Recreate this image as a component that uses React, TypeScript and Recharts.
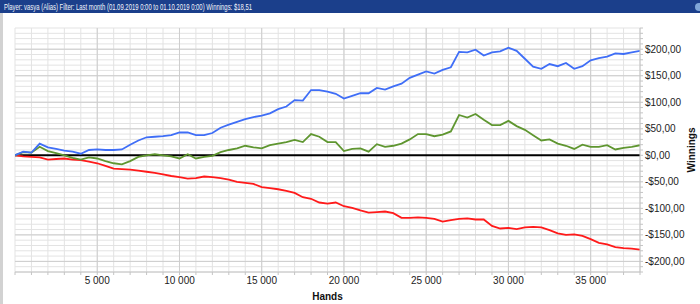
import { LineChart, Line, XAxis, YAxis, CartesianGrid, ReferenceLine } from 'recharts'

const hands = [
  0, 500, 1000, 1500, 2000, 2500, 3000, 3500, 4000, 4500,
  5000, 5500, 6000, 6500, 7000, 7500, 8000, 8500, 9000, 9500,
  10000, 10500, 11000, 11500, 12000, 12500, 13000, 13500, 14000, 14500,
  15000, 15500, 16000, 16500, 17000, 17500, 18000, 18500, 19000, 19500,
  20000, 20500, 21000, 21500, 22000, 22500, 23000, 23500, 24000, 24500,
  25000, 25500, 26000, 26500, 27000, 27500, 28000, 28500, 29000, 29500,
  30000, 30500, 31000, 31500, 32000, 32500, 33000, 33500, 34000, 34500,
  35000, 35500, 36000, 36500, 37000, 37500, 38000,
]

// total winnings (blue)
const winnings = [
  0, 7, 5, 22, 15, 12, 9, 7, 3, 10,
  11, 10, 10, 11, 20, 28, 34, 35, 36, 38,
  43, 43, 38, 38, 42, 52, 58, 63, 68, 72,
  75, 79, 87, 92, 104, 103, 123, 123, 120, 116,
  107, 112, 117, 117, 127, 124, 130, 135, 146, 152,
  158, 154, 161, 166, 195, 194, 199, 188, 194, 196,
  203, 197, 182, 167, 163, 172, 168, 174, 163, 168,
  179, 183, 186, 192, 191, 194, 197,
]

// showdown winnings (green)
const showdown = [
  0, 6, 5, 16, 8, 4, 0, -5, -8, -4,
  -6, -11, -15, -17, -11, -3, 0, 2, 0, -2,
  -6, 2, -6, -3, -1, 6, 10, 13, 18, 15,
  13, 19, 22, 25, 29, 25, 40, 35, 25, 25,
  8, 12, 13, 7, 21, 16, 18, 22, 30, 40,
  40, 36, 39, 45, 76, 71, 78, 67, 57, 57,
  65, 55, 48, 38, 28, 30, 22, 18, 12, 20,
  16, 16, 19, 11, 14, 16, 19,
]

// non-showdown winnings (red)
const nonShowdown = [
  0, -2, -3, -4, -8, -7, -6, -8, -9, -12,
  -15, -20, -25, -26, -27, -29, -31, -33, -36, -39,
  -41, -44, -43, -40, -41, -43, -46, -50, -52, -54,
  -60, -62, -64, -67, -71, -79, -82, -89, -91, -89,
  -96, -99, -104, -108, -107, -106, -109, -118, -118, -117,
  -118, -120, -125, -122, -120, -119, -121, -121, -133, -138,
  -137, -139, -136, -135, -136, -141, -147, -150, -149, -152,
  -158, -165, -168, -173, -175, -176, -178,
]

const xMinorTicks = Array.from({ length: 39 }, (_, i) => i * 1000)
const xMajorTicks = [5000, 10000, 15000, 20000, 25000, 30000, 35000]
const yMinorTicks = Array.from({ length: 47 }, (_, i) => -220 + i * 10)
const yMajorTicks = [-200, -150, -100, -50, 50, 100, 150, 200]

const data = hands.map((h, i) => ({
  hand: h,
  total: winnings[i],
  sd: showdown[i],
  nsd: nonShowdown[i],
}))

const fmtX = (v: number) => (v > 0 && v % 5000 === 0 ? `${v / 1000} 000` : '')
const fmtY = (v: number) => {
  if (v % 50 !== 0) return ''
  return v < 0 ? `-$${Math.abs(v)},00` : `$${v},00`
}

const font = 'Liberation Sans, Arial, sans-serif'
const tickStyle = { fill: '#222', fontSize: 10, fontFamily: font }

export default function App() {
  return (
    <div style={{ position: 'relative', width: 700, height: 304, background: '#fff', overflow: 'hidden' }}>
      <style>{'body{margin:0}'}</style>
      <div style={{ position: 'absolute', left: 0, top: 0, width: 700, height: 13, background: '#1b3f8b' }}>
        <svg width={700} height={13} style={{ display: 'block' }}>
          <text
            x={4}
            y={9.5}
            fill="#f4f6fb"
            fontSize={9}
            fontFamily={font}
            textLength={248}
            lengthAdjust="spacingAndGlyphs"
          >
            Player: vasya (Alias) Filter: Last month (01.09.2019 0:00 to 01.10.2019 0:00) Winnings: $18,51
          </text>
          <circle cx={699} cy={7} r={4} fill="#7fa6d8" />
        </svg>
      </div>
      <div style={{ position: 'absolute', left: 0, top: 13, width: 3, height: 291, background: '#d2d2d2' }} />
      <LineChart
        width={700}
        height={304}
        data={data}
        margin={{ top: 28, right: 15, left: 15, bottom: 12 }}
      >
        <XAxis
          dataKey="hand"
          type="number"
          domain={[0, 38000]}
          ticks={xMinorTicks}
          tickFormatter={fmtX}
          tick={tickStyle}
          stroke="#c4c4c4"
          tickSize={3}
          height={20}
          interval={0}
          allowDataOverflow
          label={{ value: 'Hands', position: 'insideBottom', offset: -8, style: { fontSize: 10, fontWeight: 'bold', fill: '#111', fontFamily: font } }}
        />
        <YAxis
          orientation="right"
          type="number"
          domain={[-220, 240]}
          ticks={yMinorTicks}
          tickFormatter={fmtY}
          tick={tickStyle}
          stroke="#c4c4c4"
          tickSize={3}
          width={45}
          interval={0}
          allowDataOverflow
          label={{ value: 'Winnings', angle: -90, position: 'insideRight', offset: -6, style: { fontSize: 10, fontWeight: 'bold', fill: '#111', textAnchor: 'middle', fontFamily: font } }}
        />
        <CartesianGrid stroke="#e3e3e3" strokeWidth={1} />
        {xMajorTicks.map(t => (
          <ReferenceLine key={'x' + t} x={t} stroke="#cdcdcd" strokeWidth={1} />
        ))}
        {yMajorTicks.map(t => (
          <ReferenceLine key={'y' + t} y={t} stroke="#cdcdcd" strokeWidth={1} />
        ))}
        <ReferenceLine y={0} stroke="#000" strokeWidth={2} />
        <Line type="linear" dataKey="nsd" stroke="#ff1a1a" strokeWidth={1.8} dot={false} isAnimationActive={false} />
        <Line type="linear" dataKey="sd" stroke="#5f9630" strokeWidth={1.8} dot={false} isAnimationActive={false} />
        <Line type="linear" dataKey="total" stroke="#3f6ef7" strokeWidth={1.8} dot={false} isAnimationActive={false} />
      </LineChart>
    </div>
  )
}
